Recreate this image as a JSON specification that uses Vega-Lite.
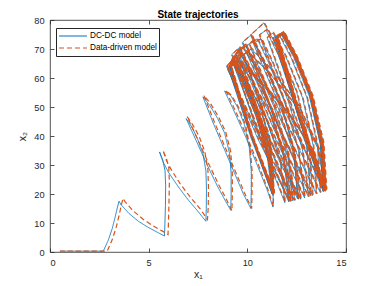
{
"$schema":"https://vega.github.io/schema/vega-lite/v6.json",
"width":296,"height":232,
"autosize":{"type":"none"},
"padding":{"left":50,"top":20,"right":36,"bottom":34},
"background":"white",
"title":{"text":"State trajectories","fontSize":10,"fontWeight":"bold","font":"Liberation Sans","color":"#000000","offset":-4},
"config":{
 "view":{"stroke":"#262626","strokeWidth":0.8},
 "axis":{"labelFont":"Liberation Sans","labelFontSize":9.2,"labelColor":"#262626","titleFont":"Liberation Sans","titleFontSize":10.5,"titleColor":"#262626","titleFontWeight":"normal","tickColor":"#262626","tickSize":-4,"tickWidth":0.8,"domain":false,"grid":false,"labelPadding":10},
 "legend":{"labelFont":"Liberation Sans","labelFontSize":8.2,"labelColor":"#000000"}
},
"data":{"values":[
{"t":1,"dc1":0.5,"dc2":0.3,"dd1":0.5,"dd2":0.35},
{"t":2,"dc1":2.7,"dc2":0.3,"dd1":2.9,"dd2":0.3},
{"t":3,"dc1":2.95,"dc2":4,"dd1":3.15,"dd2":4.2},
{"t":4,"dc1":3.15,"dc2":8,"dd1":3.35,"dd2":8.4},
{"t":5,"dc1":3.3,"dc2":12,"dd1":3.5,"dd2":12.6},
{"t":6,"dc1":3.42,"dc2":15.5,"dd1":3.62,"dd2":16.3},
{"t":7,"dc1":3.5,"dc2":17.5,"dd1":3.7,"dd2":18.5},
{"t":8,"dc1":3.6,"dc2":16.3,"dd1":3.8,"dd2":17.4},
{"t":9,"dc1":4.0,"dc2":13.3,"dd1":4.2,"dd2":14.3},
{"t":10,"dc1":4.5,"dc2":10.5,"dd1":4.7,"dd2":11.4},
{"t":11,"dc1":5.0,"dc2":8.4,"dd1":5.2,"dd2":9.1},
{"t":12,"dc1":5.5,"dc2":6.6,"dd1":5.7,"dd2":7.2},
{"t":13,"dc1":5.8,"dc2":5.5,"dd1":5.98,"dd2":6.0},
{"t":14,"dc1":5.82,"dc2":9,"dd1":6.0,"dd2":9.5},
{"t":15,"dc1":5.85,"dc2":16,"dd1":6.03,"dd2":17},
{"t":16,"dc1":5.86,"dc2":23,"dd1":6.05,"dd2":24},
{"t":17,"dc1":5.83,"dc2":28,"dd1":6.02,"dd2":29},
{"t":18,"dc1":5.72,"dc2":31.5,"dd1":5.9,"dd2":32.3},
{"t":19,"dc1":5.55,"dc2":34.5,"dd1":5.72,"dd2":35.1},
{"t":20,"dc1":5.75,"dc2":30.8,"dd1":5.9,"dd2":31.5},
{"t":21,"dc1":6.0,"dc2":27.5,"dd1":6.15,"dd2":28.3},
{"t":22,"dc1":6.5,"dc2":22.5,"dd1":6.6,"dd2":23.5},
{"t":23,"dc1":7.0,"dc2":18,"dd1":7.1,"dd2":19},
{"t":24,"dc1":7.5,"dc2":14,"dd1":7.6,"dd2":15},
{"t":25,"dc1":7.9,"dc2":10.6,"dd1":7.98,"dd2":11.2},
{"t":26,"dc1":7.92,"dc2":15,"dd1":8.02,"dd2":15.5},
{"t":27,"dc1":7.93,"dc2":22,"dd1":8.03,"dd2":22.5},
{"t":28,"dc1":7.9,"dc2":28,"dd1":8.0,"dd2":28.5},
{"t":29,"dc1":7.75,"dc2":34,"dd1":7.85,"dd2":34.5},
{"t":30,"dc1":7.45,"dc2":39.5,"dd1":7.55,"dd2":40},
{"t":31,"dc1":7.15,"dc2":43.5,"dd1":7.22,"dd2":44},
{"t":32,"dc1":6.9,"dc2":46,"dd1":6.95,"dd2":46.7},
{"t":33,"dc1":7.2,"dc2":41.5,"dd1":7.25,"dd2":42.3},
{"t":34,"dc1":7.6,"dc2":35.5,"dd1":7.65,"dd2":36.3},
{"t":35,"dc1":8.0,"dc2":29.5,"dd1":8.05,"dd2":30.3},
{"t":36,"dc1":8.5,"dc2":22.5,"dd1":8.55,"dd2":23.2},
{"t":37,"dc1":8.9,"dc2":17.5,"dd1":8.95,"dd2":18},
{"t":38,"dc1":9.16,"dc2":14.4,"dd1":9.22,"dd2":14.2},
{"t":39,"dc1":9.18,"dc2":20,"dd1":9.24,"dd2":20},
{"t":40,"dc1":9.18,"dc2":27,"dd1":9.24,"dd2":27},
{"t":41,"dc1":9.1,"dc2":34,"dd1":9.16,"dd2":34.5},
{"t":42,"dc1":8.85,"dc2":41,"dd1":8.9,"dd2":41.5},
{"t":43,"dc1":8.5,"dc2":46,"dd1":8.55,"dd2":46.5},
{"t":44,"dc1":8.1,"dc2":50.5,"dd1":8.15,"dd2":51},
{"t":45,"dc1":7.75,"dc2":53.5,"dd1":7.8,"dd2":54},
{"t":46,"dc1":7.95,"dc2":50,"dd1":8.0,"dd2":50.5},
{"t":47,"dc1":8.3,"dc2":44,"dd1":8.35,"dd2":44.5},
{"t":48,"dc1":8.8,"dc2":36,"dd1":8.85,"dd2":36.5},
{"t":49,"dc1":9.3,"dc2":28,"dd1":9.35,"dd2":28.5},
{"t":50,"dc1":9.8,"dc2":20,"dd1":9.85,"dd2":20.5},
{"t":51,"dc1":10.18,"dc2":15,"dd1":10.22,"dd2":15},
{"t":52,"dc1":10.2,"dc2":21,"dd1":10.24,"dd2":21},
{"t":53,"dc1":10.2,"dc2":28,"dd1":10.24,"dd2":28},
{"t":54,"dc1":10.1,"dc2":36,"dd1":10.14,"dd2":36},
{"t":55,"dc1":9.85,"dc2":44,"dd1":9.9,"dd2":44},
{"t":56,"dc1":9.5,"dc2":50,"dd1":9.55,"dd2":50},
{"t":57,"dc1":9.15,"dc2":54,"dd1":9.2,"dd2":54},
{"t":58,"dc1":8.85,"dc2":55.5,"dd1":8.9,"dd2":55.8},
{"t":59,"dc1":9.3,"dc2":49,"dd1":9.35,"dd2":49.3},
{"t":60,"dc1":9.9,"dc2":40,"dd1":9.95,"dd2":40.3},
{"t":61,"dc1":10.5,"dc2":30,"dd1":10.55,"dd2":30.3},
{"t":62,"dc1":11.0,"dc2":21.5,"dd1":11.03,"dd2":21.8},
{"t":63,"dc1":11.3,"dc2":15.5,"dd1":11.32,"dd2":15.7},
{"t":64,"dc1":11.32,"dc2":27,"dd1":11.34,"dd2":27},
{"t":65,"dc1":11.1,"dc2":40,"dd1":11.13,"dd2":40},
{"t":66,"dc1":10.5,"dc2":52,"dd1":10.53,"dd2":52},
{"t":67,"dc1":9.8,"dc2":61,"dd1":9.83,"dd2":61},
{"t":68,"dc1":9.3,"dc2":66.5,"dd1":9.33,"dd2":66.8},
{"t":69,"dc1":8.95,"dc2":64,"dd1":8.98,"dd2":64.2},
{"t":70,"dc1":10.55,"dc2":38.75,"dd1":10.58,"dd2":38.9},
{"t":71,"dc1":12.15,"dc2":17.5,"dd1":12.18,"dd2":17.6},
{"t":72,"dc1":11.82,"dc2":33.4,"dd1":11.85,"dd2":33.4},
{"t":73,"dc1":11.08,"dc2":49.3,"dd1":11.11,"dd2":49.3},
{"t":74,"dc1":10.21,"dc2":62.55,"dd1":10.24,"dd2":62.6},
{"t":75,"dc1":9.6,"dc2":70.5,"dd1":9.63,"dd2":70.7},
{"t":76,"dc1":9.2,"dc2":68,"dd1":9.23,"dd2":68.2},
{"t":77,"dc1":10.95,"dc2":41.1,"dd1":10.98,"dd2":41.2},
{"t":78,"dc1":12.7,"dc2":18.2,"dd1":12.73,"dd2":18.3},
{"t":79,"dc1":12.37,"dc2":35.15,"dd1":12.4,"dd2":35.2},
{"t":80,"dc1":11.63,"dc2":52.1,"dd1":11.66,"dd2":52.1},
{"t":81,"dc1":10.77,"dc2":66.2,"dd1":10.8,"dd2":66.3},
{"t":82,"dc1":10.16,"dc2":74.7,"dd1":10.19,"dd2":74.9},
{"t":83,"dc1":9.74,"dc2":72.2,"dd1":9.77,"dd2":72.4},
{"t":84,"dc1":11.52,"dc2":43.85,"dd1":11.55,"dd2":44},
{"t":85,"dc1":13.3,"dc2":19.5,"dd1":13.33,"dd2":19.6},
{"t":86,"dc1":13.12,"dc2":37.35,"dd1":13.15,"dd2":37.4},
{"t":87,"dc1":12.5,"dc2":55.2,"dd1":12.53,"dd2":55.2},
{"t":88,"dc1":11.57,"dc2":70.1,"dd1":11.6,"dd2":70.2},
{"t":89,"dc1":10.83,"dc2":79,"dd1":10.86,"dd2":79.1},
{"t":90,"dc1":10.2,"dc2":75,"dd1":10.23,"dd2":75.2},
{"t":91,"dc1":12.08,"dc2":46,"dd1":12.11,"dd2":46.1},
{"t":92,"dc1":13.95,"dc2":21,"dd1":13.98,"dd2":21.1},
{"t":93,"dc1":13.8,"dc2":37.4,"dd1":13.83,"dd2":37.4},
{"t":94,"dc1":13.25,"dc2":53.9,"dd1":13.28,"dd2":53.9},
{"t":95,"dc1":12.45,"dc2":67.6,"dd1":12.48,"dd2":67.7},
{"t":96,"dc1":11.8,"dc2":75.8,"dd1":11.83,"dd2":76},
{"t":97,"dc1":11.5,"dc2":74.2,"dd1":11.53,"dd2":74.3},
{"t":98,"dc1":12.7,"dc2":45.75,"dd1":12.73,"dd2":45.8},
{"t":99,"dc1":13.9,"dc2":21.3,"dd1":13.93,"dd2":21.4},
{"t":100,"dc1":13.75,"dc2":37.5,"dd1":13.78,"dd2":37.5},
{"t":101,"dc1":13.23,"dc2":53.7,"dd1":13.26,"dd2":53.7},
{"t":102,"dc1":12.47,"dc2":67.2,"dd1":12.5,"dd2":67.3},
{"t":103,"dc1":11.85,"dc2":75.3,"dd1":11.88,"dd2":75.5},
{"t":104,"dc1":11.55,"dc2":73.8,"dd1":11.58,"dd2":73.9},
{"t":105,"dc1":12.75,"dc2":45.4,"dd1":12.78,"dd2":45.5},
{"t":106,"dc1":13.95,"dc2":21,"dd1":13.98,"dd2":21.1},
{"t":107,"dc1":13.79,"dc2":37.2,"dd1":13.82,"dd2":37.2},
{"t":108,"dc1":13.24,"dc2":53.4,"dd1":13.27,"dd2":53.4},
{"t":109,"dc1":12.41,"dc2":66.9,"dd1":12.44,"dd2":67},
{"t":110,"dc1":11.75,"dc2":75,"dd1":11.78,"dd2":75.2},
{"t":111,"dc1":11.45,"dc2":73.5,"dd1":11.48,"dd2":73.6},
{"t":112,"dc1":12.65,"dc2":45.15,"dd1":12.68,"dd2":45.2},
{"t":113,"dc1":13.85,"dc2":20.8,"dd1":13.88,"dd2":20.9},
{"t":114,"dc1":13.7,"dc2":37.2,"dd1":13.73,"dd2":37.2},
{"t":115,"dc1":13.18,"dc2":53.6,"dd1":13.21,"dd2":53.6},
{"t":116,"dc1":12.42,"dc2":67.3,"dd1":12.45,"dd2":67.4},
{"t":117,"dc1":11.8,"dc2":75.5,"dd1":11.83,"dd2":75.7},
{"t":118,"dc1":11.4,"dc2":73,"dd1":11.43,"dd2":73.1},
{"t":119,"dc1":12.65,"dc2":45.1,"dd1":12.68,"dd2":45.2},
{"t":120,"dc1":13.9,"dc2":21.2,"dd1":13.93,"dd2":21.3},
{"t":121,"dc1":13.33,"dc2":34.8,"dd1":13.36,"dd2":34.8},
{"t":122,"dc1":12.05,"dc2":48.4,"dd1":12.08,"dd2":48.4},
{"t":123,"dc1":10.56,"dc2":59.7,"dd1":10.59,"dd2":59.8},
{"t":124,"dc1":9.5,"dc2":66.5,"dd1":9.53,"dd2":66.7},
{"t":125,"dc1":9.15,"dc2":64.5,"dd1":9.18,"dd2":64.6},
{"t":126,"dc1":10.23,"dc2":40.25,"dd1":10.26,"dd2":40.3},
{"t":127,"dc1":11.3,"dc2":20,"dd1":11.33,"dd2":20.1},
{"t":128,"dc1":11.05,"dc2":33.65,"dd1":11.08,"dd2":33.7},
{"t":129,"dc1":10.48,"dc2":47.3,"dd1":10.51,"dd2":47.3},
{"t":130,"dc1":9.82,"dc2":58.7,"dd1":9.85,"dd2":58.8},
{"t":131,"dc1":9.35,"dc2":65.5,"dd1":9.38,"dd2":65.7},
{"t":132,"dc1":9.1,"dc2":64,"dd1":9.13,"dd2":64.1},
{"t":133,"dc1":10.23,"dc2":40.25,"dd1":10.26,"dd2":40.3},
{"t":134,"dc1":11.35,"dc2":20.5,"dd1":11.38,"dd2":20.6},
{"t":135,"dc1":11.1,"dc2":34.15,"dd1":11.13,"dd2":34.2},
{"t":136,"dc1":10.53,"dc2":47.8,"dd1":10.56,"dd2":47.8},
{"t":137,"dc1":9.87,"dc2":59.2,"dd1":9.9,"dd2":59.3},
{"t":138,"dc1":9.4,"dc2":66,"dd1":9.43,"dd2":66.2},
{"t":139,"dc1":9.15,"dc2":64.5,"dd1":9.18,"dd2":64.6},
{"t":140,"dc1":10.2,"dc2":40.25,"dd1":10.23,"dd2":40.3},
{"t":141,"dc1":11.25,"dc2":20,"dd1":11.28,"dd2":20.1},
{"t":142,"dc1":11.0,"dc2":33.5,"dd1":11.03,"dd2":33.5},
{"t":143,"dc1":10.43,"dc2":47,"dd1":10.46,"dd2":47},
{"t":144,"dc1":9.77,"dc2":58.25,"dd1":9.8,"dd2":58.3},
{"t":145,"dc1":9.3,"dc2":65,"dd1":9.33,"dd2":65.2},
{"t":146,"dc1":9.05,"dc2":63.5,"dd1":9.08,"dd2":63.6},
{"t":147,"dc1":10.18,"dc2":39.5,"dd1":10.21,"dd2":39.6},
{"t":148,"dc1":11.3,"dc2":19.5,"dd1":11.33,"dd2":19.6},
{"t":149,"dc1":11.07,"dc2":34.05,"dd1":11.1,"dd2":34.1},
{"t":150,"dc1":10.54,"dc2":48.6,"dd1":10.57,"dd2":48.6},
{"t":151,"dc1":9.93,"dc2":60.7,"dd1":9.96,"dd2":60.8},
{"t":152,"dc1":9.5,"dc2":68,"dd1":9.53,"dd2":68.2},
{"t":153,"dc1":9.2,"dc2":66.5,"dd1":9.23,"dd2":66.6},
{"t":154,"dc1":10.65,"dc2":39.9,"dd1":10.68,"dd2":40},
{"t":155,"dc1":12.1,"dc2":17.3,"dd1":12.13,"dd2":17.4},
{"t":156,"dc1":11.82,"dc2":33.6,"dd1":11.85,"dd2":33.6},
{"t":157,"dc1":11.18,"dc2":49.8,"dd1":11.21,"dd2":49.8},
{"t":158,"dc1":10.43,"dc2":63.4,"dd1":10.46,"dd2":63.5},
{"t":159,"dc1":9.9,"dc2":71.5,"dd1":9.93,"dd2":71.7},
{"t":160,"dc1":9.5,"dc2":69.5,"dd1":9.53,"dd2":69.6},
{"t":161,"dc1":11.2,"dc2":42.1,"dd1":11.23,"dd2":42.2},
{"t":162,"dc1":12.9,"dc2":18.7,"dd1":12.93,"dd2":18.8},
{"t":163,"dc1":12.59,"dc2":35.1,"dd1":12.62,"dd2":35.1},
{"t":164,"dc1":11.89,"dc2":51.6,"dd1":11.92,"dd2":51.6},
{"t":165,"dc1":11.08,"dc2":65.3,"dd1":11.11,"dd2":65.4},
{"t":166,"dc1":10.5,"dc2":73.5,"dd1":10.53,"dd2":73.7},
{"t":167,"dc1":10.1,"dc2":71.5,"dd1":10.13,"dd2":71.6},
{"t":168,"dc1":11.8,"dc2":43.75,"dd1":11.83,"dd2":43.8},
{"t":169,"dc1":13.5,"dc2":20,"dd1":13.53,"dd2":20.1},
{"t":170,"dc1":13.34,"dc2":36.65,"dd1":13.37,"dd2":36.7},
{"t":171,"dc1":12.79,"dc2":53.3,"dd1":12.82,"dd2":53.3},
{"t":172,"dc1":11.96,"dc2":67.2,"dd1":11.99,"dd2":67.3},
{"t":173,"dc1":11.3,"dc2":75.5,"dd1":11.33,"dd2":75.7},
{"t":174,"dc1":11.0,"dc2":74,"dd1":11.03,"dd2":74.1},
{"t":175,"dc1":12.48,"dc2":45.5,"dd1":12.51,"dd2":45.6},
{"t":176,"dc1":13.95,"dc2":21,"dd1":13.98,"dd2":21.1},
{"t":177,"dc1":13.8,"dc2":37.4,"dd1":13.83,"dd2":37.4},
{"t":178,"dc1":13.27,"dc2":53.9,"dd1":13.3,"dd2":53.9},
{"t":179,"dc1":12.48,"dc2":67.6,"dd1":12.51,"dd2":67.7},
{"t":180,"dc1":11.85,"dc2":75.8,"dd1":11.88,"dd2":76},
{"t":181,"dc1":11.5,"dc2":74,"dd1":11.53,"dd2":74.1},
{"t":182,"dc1":12.7,"dc2":45.5,"dd1":12.73,"dd2":45.6},
{"t":183,"dc1":13.9,"dc2":21,"dd1":13.93,"dd2":21.1},
{"t":184,"dc1":13.75,"dc2":37.3,"dd1":13.78,"dd2":37.3},
{"t":185,"dc1":13.22,"dc2":53.5,"dd1":13.25,"dd2":53.5},
{"t":186,"dc1":12.43,"dc2":67.1,"dd1":12.46,"dd2":67.2},
{"t":187,"dc1":11.8,"dc2":75.2,"dd1":11.83,"dd2":75.4},
{"t":188,"dc1":11.45,"dc2":73.5,"dd1":11.48,"dd2":73.6},
{"t":189,"dc1":12.7,"dc2":45.4,"dd1":12.73,"dd2":45.5},
{"t":190,"dc1":13.95,"dc2":21.3,"dd1":13.98,"dd2":21.4},
{"t":191,"dc1":13.37,"dc2":34.7,"dd1":13.4,"dd2":34.7},
{"t":192,"dc1":12.06,"dc2":48.1,"dd1":12.09,"dd2":48.1},
{"t":193,"dc1":10.53,"dc2":59.3,"dd1":10.56,"dd2":59.4},
{"t":194,"dc1":9.45,"dc2":66,"dd1":9.48,"dd2":66.2},
{"t":195,"dc1":9.15,"dc2":64.5,"dd1":9.18,"dd2":64.6},
{"t":196,"dc1":10.23,"dc2":40.4,"dd1":10.26,"dd2":40.5},
{"t":197,"dc1":11.3,"dc2":20.3,"dd1":11.33,"dd2":20.4},
{"t":198,"dc1":11.05,"dc2":33.8,"dd1":11.08,"dd2":33.8},
{"t":199,"dc1":10.48,"dc2":47.3,"dd1":10.51,"dd2":47.3},
{"t":200,"dc1":9.82,"dc2":58.55,"dd1":9.85,"dd2":58.6},
{"t":201,"dc1":9.35,"dc2":65.3,"dd1":9.38,"dd2":65.5},
{"t":202,"dc1":9.1,"dc2":64,"dd1":9.13,"dd2":64.1},
{"t":203,"dc1":10.2,"dc2":40,"dd1":10.23,"dd2":40.1},
{"t":204,"dc1":11.3,"dc2":20,"dd1":11.33,"dd2":20.1},
{"t":205,"dc1":11.06,"dc2":33.85,"dd1":11.09,"dd2":33.9},
{"t":206,"dc1":10.5,"dc2":47.7,"dd1":10.53,"dd2":47.7},
{"t":207,"dc1":9.86,"dc2":59.3,"dd1":9.89,"dd2":59.4},
{"t":208,"dc1":9.4,"dc2":66.2,"dd1":9.43,"dd2":66.4},
{"t":209,"dc1":9.1,"dc2":64.5,"dd1":9.13,"dd2":64.6},
{"t":210,"dc1":10.2,"dc2":40.15,"dd1":10.23,"dd2":40.2},
{"t":211,"dc1":11.3,"dc2":19.8,"dd1":11.33,"dd2":19.9},
{"t":212,"dc1":11.04,"dc2":33.2,"dd1":11.07,"dd2":33.2},
{"t":213,"dc1":10.46,"dc2":46.6,"dd1":10.49,"dd2":46.6},
{"t":214,"dc1":9.78,"dc2":57.8,"dd1":9.81,"dd2":57.9},
{"t":215,"dc1":9.3,"dc2":64.5,"dd1":9.33,"dd2":64.7},
{"t":216,"dc1":9.0,"dc2":63,"dd1":9.03,"dd2":63.1},
{"t":217,"dc1":10.7,"dc2":38.4,"dd1":10.73,"dd2":38.5},
{"t":218,"dc1":12.4,"dc2":17.8,"dd1":12.43,"dd2":17.9},
{"t":219,"dc1":12.08,"dc2":33.8,"dd1":12.11,"dd2":33.8},
{"t":220,"dc1":11.37,"dc2":49.7,"dd1":11.4,"dd2":49.7},
{"t":221,"dc1":10.54,"dc2":63,"dd1":10.57,"dd2":63.1},
{"t":222,"dc1":9.95,"dc2":71,"dd1":9.98,"dd2":71.2},
{"t":223,"dc1":9.6,"dc2":69.5,"dd1":9.63,"dd2":69.6},
{"t":224,"dc1":11.35,"dc2":42.25,"dd1":11.38,"dd2":42.3},
{"t":225,"dc1":13.1,"dc2":19,"dd1":13.13,"dd2":19.1},
{"t":226,"dc1":12.79,"dc2":35.35,"dd1":12.82,"dd2":35.4},
{"t":227,"dc1":12.09,"dc2":51.7,"dd1":12.12,"dd2":51.7},
{"t":228,"dc1":11.28,"dc2":65.3,"dd1":11.31,"dd2":65.4},
{"t":229,"dc1":10.7,"dc2":73.5,"dd1":10.73,"dd2":73.7},
{"t":230,"dc1":10.3,"dc2":72,"dd1":10.33,"dd2":72.1},
{"t":231,"dc1":12.0,"dc2":44.25,"dd1":12.03,"dd2":44.3},
{"t":232,"dc1":13.7,"dc2":20.5,"dd1":13.73,"dd2":20.6},
{"t":233,"dc1":13.55,"dc2":36.85,"dd1":13.58,"dd2":36.9},
{"t":234,"dc1":13.02,"dc2":53.2,"dd1":13.05,"dd2":53.2},
{"t":235,"dc1":12.23,"dc2":66.8,"dd1":12.26,"dd2":66.9},
{"t":236,"dc1":11.6,"dc2":75,"dd1":11.63,"dd2":75.2},
{"t":237,"dc1":11.3,"dc2":73.8,"dd1":11.33,"dd2":73.9},
{"t":238,"dc1":12.65,"dc2":45.65,"dd1":12.68,"dd2":45.7},
{"t":239,"dc1":14.0,"dc2":21.5,"dd1":14.03,"dd2":21.6},
{"t":240,"dc1":13.85,"dc2":37.7,"dd1":13.88,"dd2":37.7},
{"t":241,"dc1":13.3,"dc2":53.9,"dd1":13.33,"dd2":53.9},
{"t":242,"dc1":12.5,"dc2":67.4,"dd1":12.53,"dd2":67.5},
{"t":243,"dc1":11.85,"dc2":75.5,"dd1":11.88,"dd2":75.7},
{"t":244,"dc1":11.5,"dc2":74,"dd1":11.53,"dd2":74.1},
{"t":245,"dc1":12.73,"dc2":45.6,"dd1":12.76,"dd2":45.7},
{"t":246,"dc1":13.95,"dc2":21.2,"dd1":13.98,"dd2":21.3},
{"t":247,"dc1":13.61,"dc2":35.84,"dd1":13.64,"dd2":35.9},
{"t":248,"dc1":12.6,"dc2":50.48,"dd1":12.63,"dd2":50.5},
{"t":249,"dc1":11.24,"dc2":62.68,"dd1":11.27,"dd2":62.7},
{"t":250,"dc1":10.2,"dc2":70,"dd1":10.23,"dd2":70.2},
{"t":251,"dc1":9.8,"dc2":68,"dd1":9.83,"dd2":68.1},
{"t":252,"dc1":11.2,"dc2":41.1,"dd1":11.23,"dd2":41.2},
{"t":253,"dc1":12.6,"dc2":18.2,"dd1":12.63,"dd2":18.3},
{"t":254,"dc1":12.34,"dc2":33.89,"dd1":12.37,"dd2":33.9},
{"t":255,"dc1":11.57,"dc2":49.58,"dd1":11.6,"dd2":49.6},
{"t":256,"dc1":10.54,"dc2":62.66,"dd1":10.57,"dd2":62.7},
{"t":257,"dc1":9.75,"dc2":70.5,"dd1":9.78,"dd2":70.7},
{"t":258,"dc1":9.4,"dc2":68.5,"dd1":9.43,"dd2":68.6},
{"t":259,"dc1":10.85,"dc2":41.1,"dd1":10.88,"dd2":41.2},
{"t":260,"dc1":12.3,"dc2":17.7,"dd1":12.33,"dd2":17.8},
{"t":261,"dc1":12.05,"dc2":33.09,"dd1":12.08,"dd2":33.1},
{"t":262,"dc1":11.31,"dc2":48.48,"dd1":11.34,"dd2":48.5},
{"t":263,"dc1":10.31,"dc2":61.31,"dd1":10.34,"dd2":61.4},
{"t":264,"dc1":9.55,"dc2":69,"dd1":9.58,"dd2":69.2},
{"t":265,"dc1":9.25,"dc2":67,"dd1":9.28,"dd2":67.1},
{"t":266,"dc1":10.58,"dc2":40,"dd1":10.61,"dd2":40.1},
{"t":267,"dc1":11.9,"dc2":17,"dd1":11.93,"dd2":17.1},
{"t":268,"dc1":11.66,"dc2":31.7,"dd1":11.69,"dd2":31.7},
{"t":269,"dc1":10.93,"dc2":46.4,"dd1":10.96,"dd2":46.4},
{"t":270,"dc1":9.95,"dc2":58.65,"dd1":9.98,"dd2":58.7},
{"t":271,"dc1":9.2,"dc2":66,"dd1":9.23,"dd2":66.2},
{"t":272,"dc1":8.98,"dc2":64.3,"dd1":9.01,"dd2":64.4},
{"t":273,"dc1":10.17,"dc2":40.25,"dd1":10.2,"dd2":40.3},
{"t":274,"dc1":11.35,"dc2":20.2,"dd1":11.38,"dd2":20.3},
{"t":275,"dc1":11.17,"dc2":33.88,"dd1":11.2,"dd2":33.9},
{"t":276,"dc1":10.63,"dc2":47.56,"dd1":10.66,"dd2":47.6},
{"t":277,"dc1":9.9,"dc2":58.96,"dd1":9.93,"dd2":59},
{"t":278,"dc1":9.35,"dc2":65.8,"dd1":9.38,"dd2":66},
{"t":279,"dc1":9.1,"dc2":64.2,"dd1":9.13,"dd2":64.3},
{"t":280,"dc1":10.2,"dc2":40.3,"dd1":10.23,"dd2":40.4},
{"t":281,"dc1":11.3,"dc2":20.4,"dd1":11.33,"dd2":20.5},
{"t":282,"dc1":11.15,"dc2":35.13,"dd1":11.18,"dd2":35.2},
{"t":283,"dc1":10.71,"dc2":49.86,"dd1":10.74,"dd2":49.9},
{"t":284,"dc1":10.11,"dc2":62.14,"dd1":10.14,"dd2":62.2},
{"t":285,"dc1":9.65,"dc2":69.5,"dd1":9.68,"dd2":69.7},
{"t":286,"dc1":9.35,"dc2":67.8,"dd1":9.38,"dd2":67.9},
{"t":287,"dc1":10.95,"dc2":41.05,"dd1":10.98,"dd2":41.1},
{"t":288,"dc1":12.55,"dc2":18.3,"dd1":12.58,"dd2":18.4},
{"t":289,"dc1":12.35,"dc2":34.71,"dd1":12.38,"dd2":34.7},
{"t":290,"dc1":11.74,"dc2":51.12,"dd1":11.77,"dd2":51.1},
{"t":291,"dc1":10.92,"dc2":64.8,"dd1":10.95,"dd2":64.9},
{"t":292,"dc1":10.3,"dc2":73,"dd1":10.33,"dd2":73.2},
{"t":293,"dc1":9.95,"dc2":71,"dd1":9.98,"dd2":71.1},
{"t":294,"dc1":11.58,"dc2":43.2,"dd1":11.61,"dd2":43.3},
{"t":295,"dc1":13.2,"dc2":19.4,"dd1":13.23,"dd2":19.5},
{"t":296,"dc1":13.0,"dc2":36.53,"dd1":13.03,"dd2":36.6},
{"t":297,"dc1":12.39,"dc2":53.66,"dd1":12.42,"dd2":53.7},
{"t":298,"dc1":11.57,"dc2":67.94,"dd1":11.6,"dd2":68},
{"t":299,"dc1":10.95,"dc2":76.5,"dd1":10.98,"dd2":76.7},
{"t":300,"dc1":10.6,"dc2":74.8,"dd1":10.63,"dd2":74.9},
{"t":301,"dc1":12.23,"dc2":45.9,"dd1":12.26,"dd2":46},
{"t":302,"dc1":13.85,"dc2":21,"dd1":13.88,"dd2":21.1},
{"t":303,"dc1":13.7,"dc2":37.29,"dd1":13.73,"dd2":37.3},
{"t":304,"dc1":13.15,"dc2":53.58,"dd1":13.18,"dd2":53.6},
{"t":305,"dc1":12.35,"dc2":67.16,"dd1":12.38,"dd2":67.2},
{"t":306,"dc1":11.7,"dc2":75.3,"dd1":11.73,"dd2":75.5},
{"t":307,"dc1":11.4,"dc2":73.8,"dd1":11.43,"dd2":73.9},
{"t":308,"dc1":12.65,"dc2":45.5,"dd1":12.68,"dd2":45.6},
{"t":309,"dc1":13.9,"dc2":21.2,"dd1":13.93,"dd2":21.3},
{"t":310,"dc1":13.75,"dc2":37.52,"dd1":13.78,"dd2":37.5},
{"t":311,"dc1":13.2,"dc2":53.84,"dd1":13.23,"dd2":53.8},
{"t":312,"dc1":12.4,"dc2":67.44,"dd1":12.43,"dd2":67.5},
{"t":313,"dc1":11.75,"dc2":75.6,"dd1":11.78,"dd2":75.8},
{"t":314,"dc1":11.45,"dc2":74,"dd1":11.48,"dd2":74.1},
{"t":315,"dc1":12.7,"dc2":45.6,"dd1":12.73,"dd2":45.7},
{"t":316,"dc1":13.95,"dc2":21.2,"dd1":13.98,"dd2":21.3},
{"t":317,"dc1":13.59,"dc2":35.54,"dd1":13.62,"dd2":35.6},
{"t":318,"dc1":12.53,"dc2":49.88,"dd1":12.56,"dd2":49.9},
{"t":319,"dc1":11.1,"dc2":61.83,"dd1":11.13,"dd2":61.9},
{"t":320,"dc1":10.0,"dc2":69,"dd1":10.03,"dd2":69.2},
{"t":321,"dc1":9.6,"dc2":67,"dd1":9.63,"dd2":67.1},
{"t":322,"dc1":10.9,"dc2":40.25,"dd1":10.93,"dd2":40.3},
{"t":323,"dc1":12.2,"dc2":17.5,"dd1":12.23,"dd2":17.6},
{"t":324,"dc1":11.95,"dc2":32.35,"dd1":11.98,"dd2":32.4},
{"t":325,"dc1":11.19,"dc2":47.2,"dd1":11.22,"dd2":47.2},
{"t":326,"dc1":10.18,"dc2":59.58,"dd1":10.21,"dd2":59.6},
{"t":327,"dc1":9.4,"dc2":67,"dd1":9.43,"dd2":67.2},
{"t":328,"dc1":9.1,"dc2":65,"dd1":9.13,"dd2":65.1},
{"t":329,"dc1":10.2,"dc2":40.6,"dd1":10.23,"dd2":40.7},
{"t":330,"dc1":11.3,"dc2":20.2,"dd1":11.33,"dd2":20.3}
]},
"layer":[
 {"mark":{"type":"line","strokeWidth":0.85,"clip":true},
  "encoding":{
   "x":{"field":"dc1","type":"quantitative","scale":{"domain":[0,15],"nice":false,"zero":false},"axis":{"title":"x₁","values":[0,5,10,15],"titlePadding":2}},
   "y":{"field":"dc2","type":"quantitative","scale":{"domain":[0,80],"nice":false,"zero":false},"axis":{"title":"x₂","values":[0,10,20,30,40,50,60,70,80],"titlePadding":6}},
   "order":{"field":"t","type":"quantitative"},
   "color":{"datum":"DC-DC model","scale":{"domain":["DC-DC model","Data-driven model"],"range":["#0072BD","#D95319"]},
    "legend":{"title":null,"orient":"none","legendX":6,"legendY":8,"strokeColor":"#262626","fillColor":"white","padding":2,"symbolType":"stroke","symbolSize":784,"symbolStrokeWidth":1.1,"labelOffset":2,"rowPadding":0,"clipHeight":12,"labelFontSize":8.2}},
   "strokeDash":{"datum":"DC-DC model","scale":{"domain":["DC-DC model","Data-driven model"],"range":[[1,0],[5,3]]}}
  }},
 {"mark":{"type":"line","strokeWidth":1.2,"clip":true},
  "encoding":{
   "x":{"field":"dd1","type":"quantitative","axis":null},
   "y":{"field":"dd2","type":"quantitative","axis":null},
   "order":{"field":"t","type":"quantitative"},
   "color":{"datum":"Data-driven model"},
   "strokeDash":{"datum":"Data-driven model"}
  }},
 {"mark":{"type":"line","opacity":0},
  "encoding":{
   "x":{"field":"dc1","type":"quantitative","axis":{"orient":"top","labels":false,"title":null,"values":[0,5,10,15],"minExtent":0,"maxExtent":0}},
   "y":{"field":"dc2","type":"quantitative","axis":{"orient":"right","labels":false,"title":null,"values":[0,10,20,30,40,50,60,70,80],"minExtent":0,"maxExtent":0}},
   "order":{"field":"t","type":"quantitative"}
  }}
],
"resolve":{"axis":{"x":"independent","y":"independent"}}
}
